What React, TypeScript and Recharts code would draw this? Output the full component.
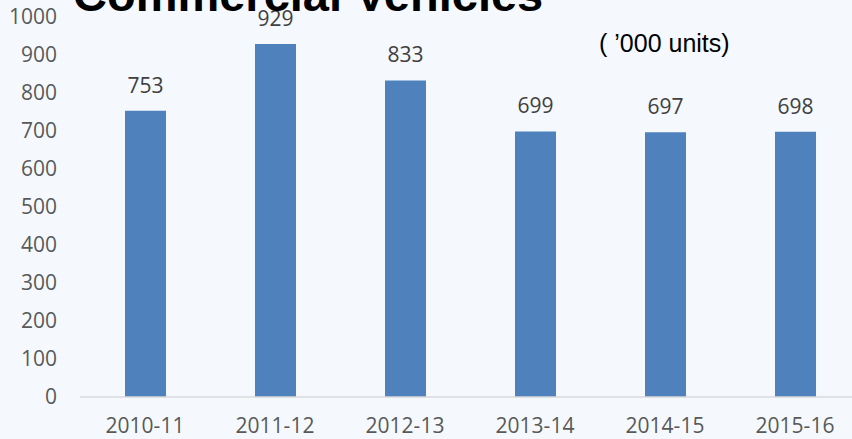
import { BarChart, Bar, XAxis, YAxis, LabelList } from 'recharts';

const years = ['2010-11', '2011-12', '2012-13', '2013-14', '2014-15', '2015-16'];
const units = [753, 929, 833, 699, 697, 698];
const yTicks = [0, 100, 200, 300, 400, 500, 600, 700, 800, 900, 1000];

const App = () => {

    const data: any[] = [];

    for (let i = 0; i < years.length; i++) {
        data.push({ year: years[i], value: units[i] });
    }

    const font = '"Open Sans", sans-serif';

    return <div style={{ position: 'absolute', left: 0, top: 0, width: 852, height: 439, overflow: 'hidden', background: '#F5F9FD' }}>
        <BarChart width={860} height={439} data={data} margin={{ top: 17, right: 0, left: 0, bottom: 0 }}>
            <XAxis dataKey="year" height={42} tickLine={false} tickSize={0} tickMargin={21}
                axisLine={{ stroke: '#D9D9D9', strokeWidth: 1.5 }}
                tick={{ fill: '#595959', fontSize: 21, fontFamily: font }} />
            <YAxis type="number" domain={[0, 1000]} ticks={yTicks} width={80} interval={0}
                axisLine={false} tickLine={false} tickSize={0} tickMargin={23}
                tick={{ fill: '#595959', fontSize: 21, fontFamily: font }} />
            <Bar dataKey="value" fill="#4F81BD" barSize={41} isAnimationActive={false}>
                <LabelList dataKey="value" position="top" offset={18}
                    style={{ fill: '#404040', fontSize: 21, fontFamily: font }} />
            </Bar>
        </BarChart>
        <svg width={852} height={439} style={{ position: 'absolute', left: 0, top: 0, pointerEvents: 'none' }}>
            <text x={73} y={11} fontFamily='"Liberation Sans", Arial, sans-serif' fontWeight="bold" fontSize={47} fill="#000">Commercial Vehicles</text>
            <text x={599} y={52} fontFamily='"Liberation Sans", Arial, sans-serif' fontSize={25} fill="#000">( ’000 units)</text>
        </svg>
    </div>

}

export default App;
